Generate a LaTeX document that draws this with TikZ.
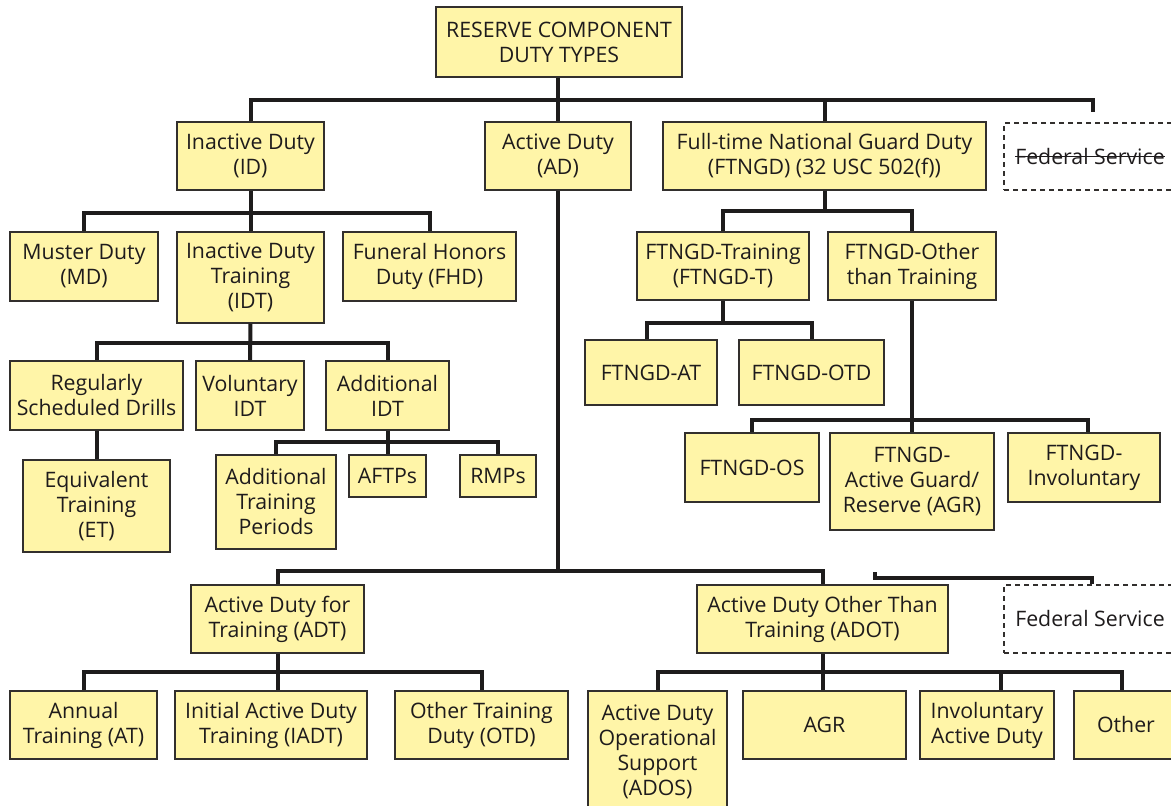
\documentclass[tikz,border=0pt]{standalone}
\usepackage{fontspec}
\setmainfont{Open Sans}
\definecolor{boxfill}{RGB}{255,245,168}
\definecolor{boxline}{RGB}{50,47,45}
\definecolor{inkline}{RGB}{30,28,28}
\definecolor{inktext}{RGB}{30,27,28}
\tikzset{
  dbox/.style={draw=boxline, line width=1.5pt, fill=boxfill, inner sep=0pt,
    align=center, text=inktext, font=\fontsize{21.3}{25}\selectfont},
  fedbox/.style={draw=boxline, line width=1.2pt, dash pattern=on 5pt off 4pt,
    inner sep=0pt},
  fedtext/.style={inner sep=0pt, text=inktext, font=\fontsize{21.3}{25}\selectfont},
  conn/.style={draw=inkline, line width=4pt},
  strike/.style={draw=inktext, line width=1.3pt}
}
% box given by its name, left, top, right, bottom and text
\newcommand{\dutybox}[6]{%
  \node[dbox, minimum width={(#4-#2)*1pt}, minimum height={(#5-#3)*1pt}]
    (#1) at ({(#2+#4)/2},{(#3+#5)/2}) {#6};}
\begin{document}
\begin{tikzpicture}[x=1pt,y=-1pt]
\clip (0,0) rectangle (1171,806);
\fill[white] (0,0) rectangle (1171,806);

% bar heights
\coordinate (topbar) at (0,100);
\coordinate (idbar) at (0,213);
\coordinate (idtbar) at (0,343);
\coordinate (aidtbar) at (0,442);
\coordinate (ftbar) at (0,211);
\coordinate (fttbar) at (0,323);
\coordinate (ftobar) at (0,420);
\coordinate (adbar) at (0,571);
\coordinate (fedbar) at (0,578);
\coordinate (lowbar) at (0,672);
\coordinate (fedtick) at (1093,112);
\coordinate (fedstart) at (875,572);

% boxes
\dutybox{root}{436}{7}{682}{77}{RESERVE COMPONENT\\DUTY TYPES}
\dutybox{id}{177}{122}{324}{190}{Inactive Duty\\(ID)}
\dutybox{ad}{485}{122}{631}{190}{Active Duty\\(AD)}
\dutybox{ftngd}{663}{122}{986}{190}{Full-time National Guard Duty\\(FTNGD) (32 USC 502(f))}

\dutybox{md}{10}{232}{158}{301}{Muster Duty\\(MD)}
\dutybox{idt}{177}{232}{324}{323}{Inactive Duty\\Training\\(IDT)}
\dutybox{fhd}{343}{232}{516}{301}{Funeral Honors\\Duty (FHD)}

\dutybox{rsd}{10}{361}{183}{430}{Regularly\\Scheduled Drills}
\dutybox{vidt}{196}{361}{304}{430}{Voluntary\\IDT}
\dutybox{aidt}{326}{361}{449}{430}{Additional\\IDT}
\dutybox{et}{23}{460}{170}{552}{Equivalent\\Training\\(ET)}
\dutybox{atp}{216}{455}{336}{549}{Additional\\Training\\Periods}
\dutybox{aftps}{349}{455}{426}{497}{AFTPs}
\dutybox{rmps}{460}{455}{536}{497}{RMPs}

\dutybox{ftt}{637}{232}{809}{300}{FTNGD-Training\\(FTNGD-T)}
\dutybox{fto}{828}{232}{996}{300}{FTNGD-Other\\than Training}
\dutybox{ftat}{585}{340}{717}{405}{FTNGD-AT}
\dutybox{ftotd}{739}{340}{884}{405}{FTNGD-OTD}
\dutybox{ftos}{685}{433}{819}{502}{FTNGD-OS}
\dutybox{ftagr}{830}{433}{994}{530}{FTNGD-\\Active Guard/\\Reserve (AGR)}
\dutybox{ftinv}{1008}{433}{1160}{502}{FTNGD-\\Involuntary}

\dutybox{adt}{191}{585}{364}{653}{Active Duty for\\Training (ADT)}
\dutybox{adot}{697}{585}{948}{653}{Active Duty Other Than\\Training (ADOT)}

\dutybox{at}{10}{691}{157}{759}{Annual\\Training (AT)}
\dutybox{iadt}{175}{691}{367}{759}{Initial Active Duty\\Training (IADT)}
\dutybox{otd}{395}{691}{568}{759}{Other Training\\Duty (OTD)}
\dutybox{ados}{588}{691}{727}{812}{Active Duty\\Operational\\Support\\(ADOS)}
\dutybox{agr}{743}{691}{906}{759}{AGR}
\dutybox{iad}{920}{691}{1054}{759}{Involuntary\\Active Duty}
\dutybox{other}{1074}{691}{1178}{759}{Other}

% federal service boxes
\node[fedbox, minimum width=172pt, minimum height=67pt] (fedA) at (1090,156.5) {};
\node[fedtext] (fedAt) at (fedA.center) {Federal Service};
\draw[strike] ([yshift=8pt]fedAt.base west) -- ([yshift=8pt]fedAt.base east);
\node[fedbox, minimum width=172pt, minimum height=68pt] (fedB) at (1090,619) {};
\node[fedtext] (fedBt) at (fedB.center) {Federal Service};

% points where drops sit off a box centre
\coordinate (ftatdrop) at ([xshift=-4pt]ftat.north);
\coordinate (ftinvdrop) at ([xshift=4pt]ftinv.north);
\coordinate (otherdrop) at ([xshift=-4pt]other.north);
\coordinate (iaddrop) at ([xshift=14pt]iad.north);
\coordinate (fedBdrop) at ([xshift=2pt]fedB.north);

% connectors
\draw[conn] (ad.north |- root.south) -- (ad.north);
\draw[conn] (id.north) |- (fedtick |- topbar) -- (fedtick);
\draw[conn] (ftngd.north) -- (ftngd.north |- topbar);

\draw[conn] (id.south) -- (idt.north);
\draw[conn] (md.north) |- (idbar -| fhd.north) -- (fhd.north);

\draw[conn] (idt.south) -- (vidt.north);
\draw[conn] (rsd.north) |- (idtbar -| aidt.north) -- (aidt.north);
\draw[conn] (rsd.south) -- (et.north);

\draw[conn] (aidt.south) -- (aftps.north);
\draw[conn] (atp.north) |- (aidtbar -| rmps.north) -- (rmps.north);

\draw[conn] (ftngd.south) -- (ftngd.south |- ftbar);
\draw[conn] (ftt.north) |- (ftbar -| fto.north) -- (fto.north);

\draw[conn] (ftt.south) -- (ftt.south |- fttbar);
\draw[conn] (ftatdrop) |- (fttbar -| ftotd.north) -- (ftotd.north);

\draw[conn] (fto.south) -- (ftagr.north);
\draw[conn] (ftos.north) |- (ftobar -| ftinvdrop) -- (ftinvdrop);

\draw[conn] (ad.south) -- (ad.south |- adbar);
\draw[conn] (adt.north) |- (adbar -| adot.north) -- (adot.north);
\draw[conn] (fedstart) -- (fedstart |- fedbar) -| (fedBdrop);

\draw[conn] (adt.south) -- (adt.south |- iadt.north);
\draw[conn] (at.north) |- (lowbar -| otd.north) -- (otd.north);

\draw[conn] (adot.south) -- (adot.south |- agr.north);
\draw[conn] (ados.north) |- (lowbar -| otherdrop) -- (otherdrop);
\draw[conn] (iaddrop) -- (iaddrop |- lowbar);
\end{tikzpicture}
\end{document}
